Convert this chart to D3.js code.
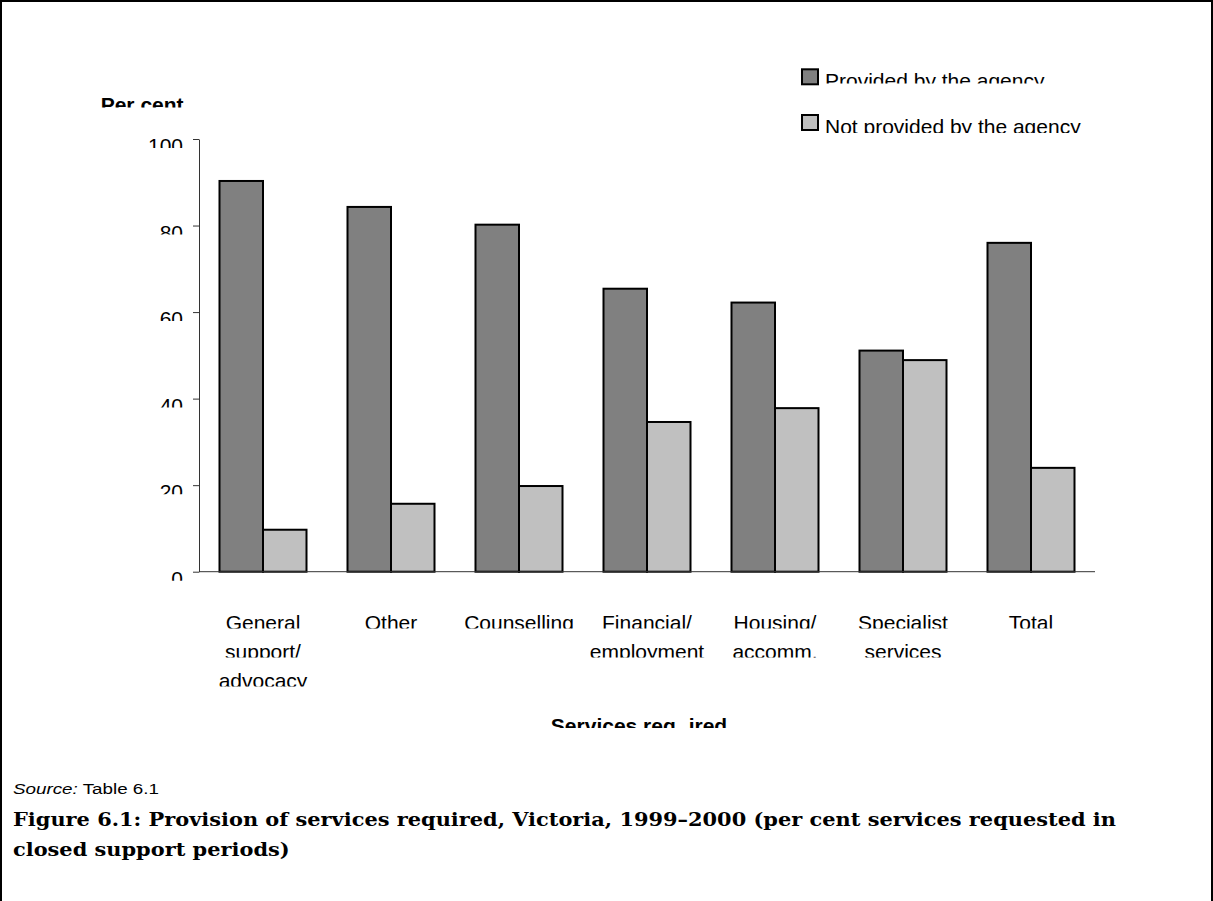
<!DOCTYPE html>
<html>
<head>
<meta charset="utf-8">
<script src="https://cdn.jsdelivr.net/npm/d3@7"></script>
<style>
  html, body { margin: 0; padding: 0; background: #fff; }
  svg { display: block; }
</style>
</head>
<body>
<svg id="chart" width="1213" height="901"></svg>
<script>
// ---------- data ----------
const categories = ["General support/ advocacy", "Other", "Counselling", "Financial/ employment", "Housing/ accomm.", "Specialist services", "Total"];
const categoryLines = [["General", "support/", "advocacy"], ["Other"], ["Counselling"], ["Financial/", "employment"], ["Housing/", "accomm."], ["Specialist", "services"], ["Total"]];
const seriesNames = ["Provided by the agency", "Not provided by the agency"];
const provided = [90.3, 84.3, 80.2, 65.4, 62.2, 51.1, 76.0];
const notProvided = [9.7, 15.7, 19.8, 34.6, 37.8, 48.9, 24.0];
const yTicks = [0, 20, 40, 60, 80, 100];
const seriesColors = ["#808080", "#c0c0c0"];

const svg = d3.select("#chart");
const W = 1213, H = 901;
const FONT = "'Liberation Sans', Arial, sans-serif";
const defs = svg.append("defs");
let clipId = 0;
function clipTo(el, x, y, w, h) {
  const id = "clip" + (clipId++);
  defs.append("clipPath").attr("id", id)
    .append("rect").attr("x", x).attr("y", y).attr("width", w).attr("height", h);
  el.attr("clip-path", `url(#${id})`);
}

// frame
svg.append("rect").attr("x", 1).attr("y", 1).attr("width", W - 2).attr("height", H + 20)
  .attr("fill", "none").attr("stroke", "#000").attr("stroke-width", 2);

// ---------- scales ----------
const plotLeft = 199, plotRight = 1095, plotTop = 139, plotBottom = 571.7;
const x0 = d3.scaleBand().domain(categories).range([plotLeft, plotRight]).paddingInner(0).paddingOuter(0);
const x1 = d3.scaleBand().domain(seriesNames).range([20.5, 107.5]);
const y = d3.scaleLinear().domain([0, 100]).range([plotBottom, plotTop]);

const data = categories.map((c, i) => ({ cat: c, vals: [provided[i], notProvided[i]] }));

// ---------- bars ----------
const groups = svg.append("g").selectAll("g").data(data).join("g")
  .attr("transform", d => `translate(${x0(d.cat)},0)`);
groups.selectAll("rect").data(d => d.vals.map((v, j) => ({ v, s: seriesNames[j], j }))).join("rect")
  .attr("x", d => x1(d.s))
  .attr("y", d => y(d.v))
  .attr("width", x1.bandwidth())
  .attr("height", d => y(0) - y(d.v))
  .attr("fill", d => seriesColors[d.j])
  .attr("stroke", "#000").attr("stroke-width", 2);

// ---------- axes ----------
const yAxis = svg.append("g").attr("transform", `translate(${plotLeft},0)`)
  .call(d3.axisLeft(y).tickValues(yTicks).tickSize(6).tickPadding(10).tickSizeOuter(0));
yAxis.select(".domain").attr("stroke", "#333");
yAxis.selectAll(".tick line").attr("stroke", "#333");
yAxis.selectAll(".tick text").attr("dy", null).attr("y", 13.5)
  .attr("font-family", FONT).attr("font-size", 21).attr("fill", "#000")
  .each(function () { clipTo(d3.select(this), -80, -20, 80, 28.5); });

svg.append("line").attr("x1", plotLeft).attr("x2", plotRight).attr("y1", y(0)).attr("y2", y(0))
  .attr("stroke", "#333").attr("stroke-width", 1);

// category labels
const catG = svg.append("g");
categories.forEach((c, i) => {
  const cx = x0(c) + x0.bandwidth() / 2;
  categoryLines[i].forEach((ln, k) => {
    const by = 630 + k * 29;
    const t = catG.append("text").attr("x", cx).attr("y", by).attr("text-anchor", "middle")
      .attr("font-family", FONT).attr("font-size", 21).attr("fill", "#000").text(ln);
    clipTo(t, cx - 100, by - 25, 200, 23.5);
  });
});

// axis titles
const pc = svg.append("text").attr("x", 100.7).attr("y", 111.7)
  .attr("font-family", FONT).attr("font-size", 21).attr("font-weight", "bold").text("Per cent");
clipTo(pc, 90, 85, 120, 22.5);

const xt = svg.append("text").attr("x", 639).attr("y", 733.3).attr("text-anchor", "middle")
  .attr("font-family", FONT).attr("font-size", 21).attr("font-weight", "bold");
xt.append("tspan").text("Services req");
xt.append("tspan").attr("fill-opacity", 0).text("u");
xt.append("tspan").text("ired");
clipTo(xt, 500, 705, 280, 23);

// legend
const legendY = [69.3, 115];
const legendBase = [87.7, 134.3];
const legendClip = [83.5, 133];
seriesNames.forEach((s, j) => {
  svg.append("rect").attr("x", 802).attr("y", legendY[j]).attr("width", 16).attr("height", 15)
    .attr("fill", seriesColors[j]).attr("stroke", "#000").attr("stroke-width", 2);
  const t = svg.append("text").attr("x", 825).attr("y", legendBase[j])
    .attr("font-family", FONT).attr("font-size", 21).attr("fill", "#000").text(s);
  clipTo(t, 820, legendBase[j] - 25, 300, legendClip[j] - (legendBase[j] - 25));
});

// source
const src = svg.append("text").attr("x", 13).attr("y", 794.3)
  .attr("font-family", FONT).attr("font-size", 14)
  .attr("textLength", 146).attr("lengthAdjust", "spacingAndGlyphs");
src.append("tspan").attr("font-style", "italic").text("Source:");
src.append("tspan").text(" Table 6.1");

// caption
const SERIF = "'DejaVu Serif', 'Liberation Serif', serif";
const cap1 = svg.append("text").attr("x", 13).attr("y", 826).attr("font-family", SERIF).attr("font-size", 19)
  .attr("font-weight", "bold")
  .text("Figure 6.1: Provision of services required, Victoria, 1999–2000 (per cent services requested in");
const cap2 = svg.append("text").attr("x", 13).attr("y", 856).attr("font-family", SERIF).attr("font-size", 19)
  .attr("font-weight", "bold")
  .text("closed support periods)");
const w1 = cap1.node().getComputedTextLength();
const ratio = 1103 / w1;
cap1.attr("textLength", 1103).attr("lengthAdjust", "spacingAndGlyphs");
cap2.attr("textLength", cap2.node().getComputedTextLength() * ratio).attr("lengthAdjust", "spacingAndGlyphs");
</script>
</body>
</html>
